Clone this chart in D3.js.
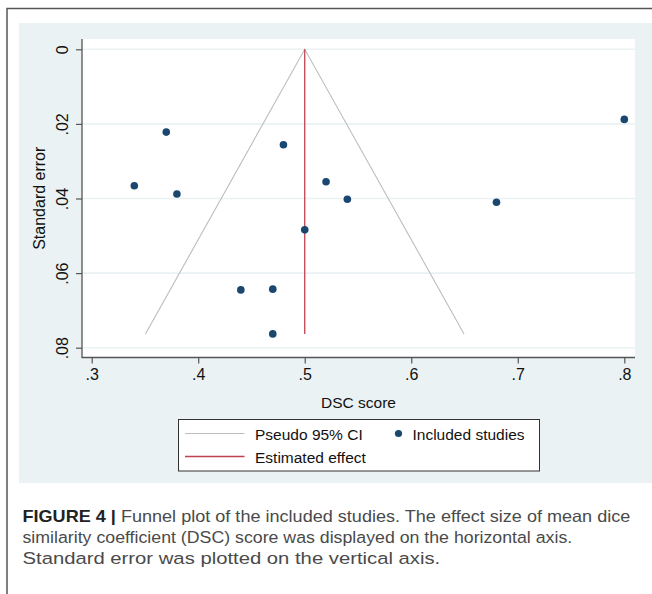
<!DOCTYPE html>
<html>
<head>
<meta charset="utf-8">
<script src="https://cdn.jsdelivr.net/npm/d3@7"></script>
<style>
  body { margin: 0; background: #fff; }
  svg { display: block; font-family: "Liberation Sans", Arial, sans-serif; }
</style>
</head>
<body>
<div id="chart"></div>
<script>
// Data: DSC score (effect) vs standard error for each study
const dscScores = [0.37, 0.80, 0.48, 0.34, 0.38, 0.52, 0.54, 0.68, 0.50, 0.44, 0.47, 0.47];
const stdErrors = [0.0222, 0.0188, 0.0256, 0.0366, 0.0388, 0.0355, 0.0402, 0.0410, 0.0484, 0.0645, 0.0643, 0.0763];
const estimatedEffect = 0.5;
const maxSE = 0.0763;
const xTicks = [0.3, 0.4, 0.5, 0.6, 0.7, 0.8];
const yTicks = [0, 0.02, 0.04, 0.06, 0.08];
const captionLines = [
    ["FIGURE 4 |", " Funnel plot of the included studies. The effect size of mean dice"],
    ["", "similarity coefficient (DSC) score was displayed on the horizontal axis."],
    ["", "Standard error was plotted on the vertical axis."]
];

const W = 652, H = 594;
const plot = {left: 82, right: 635, top: 39, bottom: 357.5};

const svg = d3.select("#chart").append("svg")
    .attr("width", W)
    .attr("height", H);

// Outer frame (left and top edges)
svg.append("path")
    .attr("d", `M7,${H} V8.5 H${W}`)
    .attr("fill", "none")
    .attr("stroke", "#555")
    .attr("stroke-width", 1.5);

// Stata-style background panel
svg.append("rect")
    .attr("x", 19).attr("y", 23)
    .attr("width", W - 19).attr("height", 460)
    .attr("fill", "#eaf2f3");

svg.append("rect")
    .attr("x", plot.left).attr("y", plot.top)
    .attr("width", plot.right - plot.left).attr("height", plot.bottom - plot.top)
    .attr("fill", "#fff");

// Scales
const x = d3.scaleLinear().domain([0.3, 0.8]).range([91.7, 624.3]);
const y = d3.scaleLinear().domain([0, 0.08]).range([49.3, 347.7]);

// Gridlines
svg.append("g").selectAll("line")
    .data(yTicks)
    .join("line")
    .attr("x1", plot.left).attr("x2", plot.right)
    .attr("y1", d => y(d)).attr("y2", d => y(d))
    .attr("stroke", "#eaf2f3")
    .attr("stroke-width", 1.6);

// Axes
const yAxis = svg.append("g")
    .attr("transform", `translate(${plot.left},0)`)
    .call(d3.axisLeft(y).tickValues(yTicks).tickSize(6).tickFormat(d => d === 0 ? "0" : d3.format(".2f")(d).replace(/^0/, "")));
yAxis.select(".domain").remove();
yAxis.selectAll(".tick line").attr("stroke", "#555").attr("stroke-width", 1.2);
yAxis.selectAll(".tick text")
    .attr("x", null).attr("dy", null)
    .attr("transform", "translate(-14,0) rotate(-90)")
    .attr("text-anchor", "middle")
    .attr("font-size", 16)
    .attr("font-family", "Liberation Sans, Arial, sans-serif")
    .attr("fill", "#111");

const xAxis = svg.append("g")
    .attr("transform", `translate(0,${plot.bottom})`)
    .call(d3.axisBottom(x).tickValues(xTicks).tickSize(6).tickFormat(d => d3.format(".1f")(d).replace(/^0/, "")));
xAxis.select(".domain").remove();
xAxis.selectAll(".tick line").attr("stroke", "#555").attr("stroke-width", 1.2);
xAxis.selectAll(".tick text")
    .attr("y", 22.5).attr("dy", null)
    .attr("font-size", 16)
    .attr("font-family", "Liberation Sans, Arial, sans-serif")
    .attr("fill", "#111");

svg.append("path")
    .attr("d", `M${plot.left},${plot.top} V${plot.bottom} H${plot.right}`)
    .attr("fill", "none")
    .attr("stroke", "#555")
    .attr("stroke-width", 1.3);

// Pseudo 95% CI funnel
const funnel = [
    [estimatedEffect - 1.96 * maxSE, maxSE],
    [estimatedEffect, 0],
    [estimatedEffect + 1.96 * maxSE, maxSE]
];
svg.append("path")
    .datum(funnel)
    .attr("d", d3.line().x(d => x(d[0])).y(d => y(d[1])))
    .attr("fill", "none")
    .attr("stroke", "#bdbdbd")
    .attr("stroke-width", 1.1);

// Estimated effect line
svg.append("line")
    .attr("x1", x(estimatedEffect)).attr("x2", x(estimatedEffect))
    .attr("y1", y(0)).attr("y2", y(maxSE))
    .attr("stroke", "#c0404f")
    .attr("stroke-width", 1.3);

// Studies
svg.append("g").selectAll("circle")
    .data(dscScores.map((d, i) => ({score: d, se: stdErrors[i]})))
    .join("circle")
    .attr("cx", d => x(d.score))
    .attr("cy", d => y(d.se))
    .attr("r", 3.8)
    .attr("fill", "#1a476f");

// Axis titles
svg.append("text")
    .attr("x", (plot.left + plot.right) / 2).attr("y", 407.5)
    .attr("text-anchor", "middle")
    .attr("font-size", 15.5)
    .attr("fill", "#111")
    .text("DSC score");

svg.append("text")
    .attr("transform", `translate(45,${(plot.top + plot.bottom) / 2}) rotate(-90)`)
    .attr("text-anchor", "middle")
    .attr("font-size", 16)
    .attr("fill", "#111")
    .text("Standard error");

// Legend
const legend = svg.append("g");
legend.append("rect")
    .attr("x", 178.5).attr("y", 419.5)
    .attr("width", 361).attr("height", 51.5)
    .attr("fill", "#fff")
    .attr("stroke", "#333")
    .attr("stroke-width", 1);
legend.append("line")
    .attr("x1", 185).attr("x2", 244.5).attr("y1", 433.5).attr("y2", 433.5)
    .attr("stroke", "#bdbdbd").attr("stroke-width", 1.1);
legend.append("line")
    .attr("x1", 185).attr("x2", 244.5).attr("y1", 456.5).attr("y2", 456.5)
    .attr("stroke", "#c0404f").attr("stroke-width", 1.3);
legend.append("circle")
    .attr("cx", 398.5).attr("cy", 433.5).attr("r", 3.6)
    .attr("fill", "#1a476f");
const legendText = [["Pseudo 95% CI", 255, 440], ["Included studies", 412.5, 440], ["Estimated effect", 255, 463]];
legend.selectAll("text.leg")
    .data(legendText)
    .join("text")
    .attr("class", "leg")
    .attr("x", d => d[1]).attr("y", d => d[2])
    .attr("font-size", 15.5)
    .attr("fill", "#111")
    .text(d => d[0]);

// Caption: narrow font in the original, so squeeze each line horizontally to its width
const captionWidths = [608, 550, 418];
captionLines.forEach((line, i) => {
    const t = svg.append("text")
        .attr("x", 0).attr("y", 0)
        .attr("font-size", 16.5)
        .attr("fill", "#4a4a4a");
    if (line[0]) t.append("tspan").attr("font-weight", "bold").attr("fill", "#222").text(line[0]);
    t.append("tspan").text(line[1]);
    const sx = captionWidths[i] / t.node().getComputedTextLength();
    t.attr("transform", `translate(22.5,${521.5 + i * 21.3}) scale(${sx},1)`);
});
</script>
</body>
</html>
